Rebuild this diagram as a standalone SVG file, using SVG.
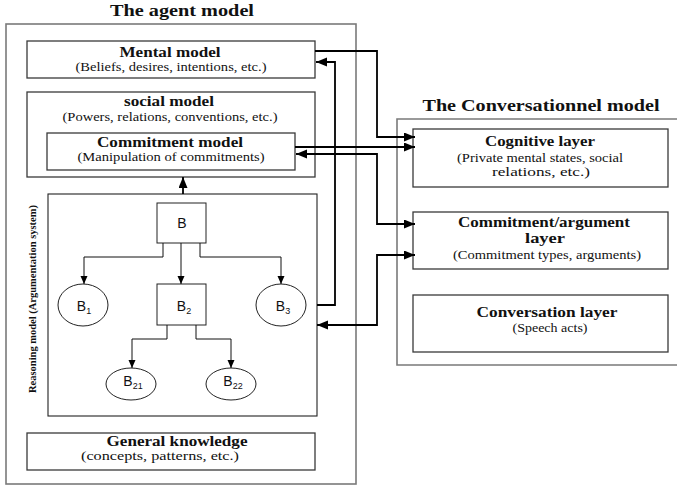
<svg xmlns="http://www.w3.org/2000/svg" width="677" height="485" viewBox="0 0 677 485">
<defs>
<marker id="ah" markerUnits="userSpaceOnUse" markerWidth="12" markerHeight="10" refX="11" refY="4.5" orient="auto-start-reverse">
<path d="M0,0 L11,4.5 L0,9 z" fill="#000"/>
</marker>
<marker id="as" markerUnits="userSpaceOnUse" markerWidth="9" markerHeight="8" refX="8" refY="3.5" orient="auto">
<path d="M0,0 L8,3.5 L0,7 z" fill="#000"/>
</marker>
</defs>
<style>
.outer{fill:none;stroke:#7a7a7a;stroke-width:1.6}
.box{fill:#fff;stroke:#3a3a3a;stroke-width:1.3}
.rb{fill:none;stroke:#222;stroke-width:1.1}
.node{fill:#fff;stroke:#222;stroke-width:1}
.t{font-family:"Liberation Serif","Times New Roman",serif;fill:#111;text-anchor:middle}
.h{font-weight:bold}
.title{font-size:17px}
.m{font-size:14px}
.s{font-size:11.5px}
.b{font-family:"Liberation Sans",Arial,sans-serif;font-size:14px;fill:#111;text-anchor:middle}
.sub{font-size:9px}
.con{fill:none;stroke:#000;stroke-width:1.8}
.tree{fill:none;stroke:#111;stroke-width:1}
</style>

<g id="agent-model">
<rect class="outer" x="6" y="24" width="350" height="460"/>
<text class="t h title" x="182" y="16" textLength="144" lengthAdjust="spacingAndGlyphs">The agent model</text>
</g>

<g id="mental-model">
<rect class="box" x="27" y="41" width="288" height="37"/>
<text class="t h m" x="170" y="57" textLength="101" lengthAdjust="spacingAndGlyphs">Mental model</text>
<text class="t s" x="171" y="71" textLength="191" lengthAdjust="spacingAndGlyphs">(Beliefs, desires, intentions, etc.)</text>
</g>

<g id="social-model">
<rect class="box" x="27" y="92" width="288" height="85"/>
<text class="t h m" x="169" y="106" textLength="90" lengthAdjust="spacingAndGlyphs">social model</text>
<text class="t s" x="170" y="121" textLength="215" lengthAdjust="spacingAndGlyphs">(Powers, relations, conventions, etc.)</text>
</g>

<g id="commitment-model">
<rect class="box" x="47" y="133" width="248" height="37"/>
<text class="t h m" x="170" y="147" textLength="146" lengthAdjust="spacingAndGlyphs">Commitment model</text>
<text class="t s" x="171" y="161" textLength="187" lengthAdjust="spacingAndGlyphs">(Manipulation of commitments)</text>
</g>

<g id="reasoning-model">
<rect class="rb" x="48" y="194" width="269" height="222"/>
<text class="t h" style="font-size:11px" transform="translate(36,299) rotate(-90)" textLength="188" lengthAdjust="spacingAndGlyphs">Reasoning model  (Argumentation system)</text>
</g>

<g id="node-B">
<rect class="node" x="157" y="203" width="49" height="40"/>
<text class="b" x="182" y="228">B</text>
</g>
<g id="node-B1">
<ellipse class="node" cx="83" cy="305" rx="25" ry="21"/>
<text class="b" x="84" y="311">B<tspan class="sub" dy="3">1</tspan></text>
</g>
<g id="node-B2">
<rect class="node" x="157" y="284" width="49" height="41"/>
<text class="b" x="184" y="311">B<tspan class="sub" dy="3">2</tspan></text>
</g>
<g id="node-B3">
<ellipse class="node" cx="281" cy="305" rx="25" ry="21"/>
<text class="b" x="283" y="311">B<tspan class="sub" dy="3">3</tspan></text>
</g>
<g id="node-B21">
<ellipse class="node" cx="131" cy="384" rx="25" ry="16"/>
<text class="b" x="133" y="386">B<tspan class="sub" dy="3">21</tspan></text>
</g>
<g id="node-B22">
<ellipse class="node" cx="231" cy="384" rx="25" ry="16"/>
<text class="b" x="233" y="386">B<tspan class="sub" dy="3">22</tspan></text>
</g>

<g id="general-knowledge">
<rect class="box" x="27" y="433" width="288" height="37"/>
<text class="t h m" x="177" y="446" textLength="141" lengthAdjust="spacingAndGlyphs">General knowledge</text>
<text class="t s" x="160" y="460" textLength="158" lengthAdjust="spacingAndGlyphs">(concepts, patterns, etc.)</text>
</g>

<g id="conversational-model">
<path class="outer" d="M680,119 H397 V365 H680"/>
<text class="t h title" x="541" y="111" textLength="237" lengthAdjust="spacingAndGlyphs">The Conversationnel model</text>
</g>

<g id="cognitive-layer">
<rect class="box" x="413" y="129" width="255" height="58"/>
<text class="t h m" x="540" y="146" textLength="110" lengthAdjust="spacingAndGlyphs">Cognitive layer</text>
<text class="t s" x="540" y="162" textLength="166" lengthAdjust="spacingAndGlyphs">(Private mental states, social</text>
<text class="t s" x="541" y="176" textLength="98" lengthAdjust="spacingAndGlyphs">relations, etc.)</text>
</g>

<g id="commitment-argument-layer">
<rect class="box" x="413" y="212" width="255" height="57"/>
<text class="t h m" x="544" y="227" textLength="172" lengthAdjust="spacingAndGlyphs">Commitment/argument</text>
<text class="t h m" x="545" y="243" textLength="40" lengthAdjust="spacingAndGlyphs">layer</text>
<text class="t s" x="547" y="259" textLength="188" lengthAdjust="spacingAndGlyphs">(Commitment types, arguments)</text>
</g>

<g id="conversation-layer">
<rect class="box" x="413" y="295" width="255" height="57"/>
<text class="t h m" x="547" y="317" textLength="141" lengthAdjust="spacingAndGlyphs">Conversation  layer</text>
<text class="t s" x="550" y="332" textLength="75" lengthAdjust="spacingAndGlyphs">(Speech acts)</text>
</g>

<g id="connectors">
<path class="con" d="M315,51 H377 V137 H415" marker-end="url(#ah)"/>
<path class="con" d="M317,305 H335 V62 H316" marker-end="url(#ah)"/>
<path class="con" d="M295,147 H415" marker-end="url(#ah)"/>
<path class="con" d="M296,154 H377 V224 H415" marker-start="url(#ah)" marker-end="url(#ah)"/>
<path class="con" d="M317,325 H377 V255 H415" marker-start="url(#ah)" marker-end="url(#ah)"/>
<path class="con" d="M183,194 V177" marker-end="url(#ah)"/>
<path class="tree" d="M163,243 V257 H84 V284" marker-end="url(#as)"/>
<path class="tree" d="M181,243 V284" marker-end="url(#as)"/>
<path class="tree" d="M200,243 V257 H281 V284" marker-end="url(#as)"/>
<path class="tree" d="M167,325 V339 H132 V368" marker-end="url(#as)"/>
<path class="tree" d="M196,325 V339 H231 V368" marker-end="url(#as)"/>
</g>
</svg>
